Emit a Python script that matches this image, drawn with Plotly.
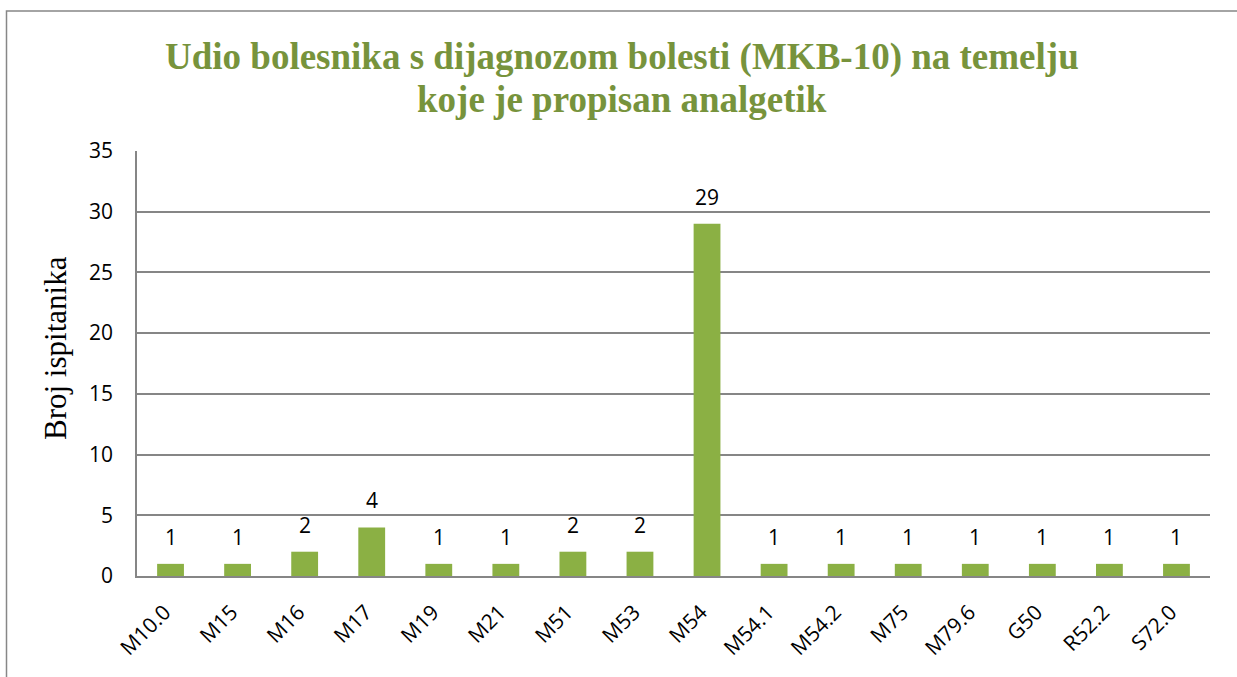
import plotly.graph_objects as go

categories = ["M10.0", "M15", "M16", "M17", "M19", "M21", "M51", "M53", "M54",
              "M54.1", "M54.2", "M75", "M79.6", "G50", "R52.2", "S72.0"]
values = [1, 1, 2, 4, 1, 1, 2, 2, 29, 1, 1, 1, 1, 1, 1, 1]
y_ticks = [0, 5, 10, 15, 20, 25, 30, 35]

title_lines = ["Udio bolesnika s dijagnozom bolesti (MKB-10) na temelju",
               "koje je propisan analgetik"]
y_title = "Broj ispitanika"

W, H = 1237, 677
ml, mr, mt, mb = 137, 27, 151, 101
pw, ph = W - ml - mr, H - mt - mb

sans = "Open Sans, Liberation Sans, sans-serif"
serif = "Liberation Serif, Times New Roman, serif"

fig = go.Figure()
fig.add_trace(go.Bar(
    x=categories, y=values,
    width=0.4,
    marker=dict(color="#8BB044", line=dict(width=0)),
))

# data labels
for c, v in zip(categories, values):
    fig.add_annotation(x=c, y=v, text=str(v), showarrow=False, yanchor="bottom",
                       yshift=11, font=dict(family=sans, size=21, color="black"))

def px_x(p):
    return (p - ml) / pw

def px_y(p):
    return 1 - (p - mt) / ph

# title lines
for txt, yc in zip(title_lines, [57, 100]):
    fig.add_annotation(xref="paper", yref="paper", x=px_x(622), y=px_y(yc),
                       xanchor="center", yanchor="middle", showarrow=False,
                       text="<b>" + txt + "</b>",
                       font=dict(family=serif, size=37, color="#77933C"))

# y axis title
fig.add_annotation(xref="paper", yref="paper", x=px_x(55), y=px_y(348),
                   xanchor="center", yanchor="middle", showarrow=False, textangle=-90,
                   text=y_title, font=dict(family=serif, size=31, color="black"))

fig.add_shape(type="rect", xref="paper", yref="paper",
              x0=px_x(6.5), x1=px_x(1260), y0=px_y(11), y1=px_y(700),
              line=dict(color="#878787", width=1.5), fillcolor="rgba(0,0,0,0)", layer="below")

fig.update_layout(
    width=W, height=H,
    margin=dict(l=ml, r=mr, t=mt, b=mb),
    paper_bgcolor="white", plot_bgcolor="white",
    showlegend=False,
)
fig.update_yaxes(
    range=[0, 35], tickvals=y_ticks, showgrid=True, gridcolor="#868686", gridwidth=1.5,
    showline=True, linecolor="#868686", linewidth=1.5, ticks="", zeroline=False,
    tickfont=dict(family=sans, size=21, color="black"),
    ticklabelstandoff=18,
)
fig.update_xaxes(
    tickangle=-45, showline=True, linecolor="#868686", linewidth=1.5, ticks="",
    tickfont=dict(family=sans, size=21, color="black"),
    ticklabelstandoff=14, ticklabelshift=-6,
)
fig.write_html("out.html", config={"displayModeBar": False},
               post_script="document.body.style.margin='0px';document.body.style.overflow='hidden';")
